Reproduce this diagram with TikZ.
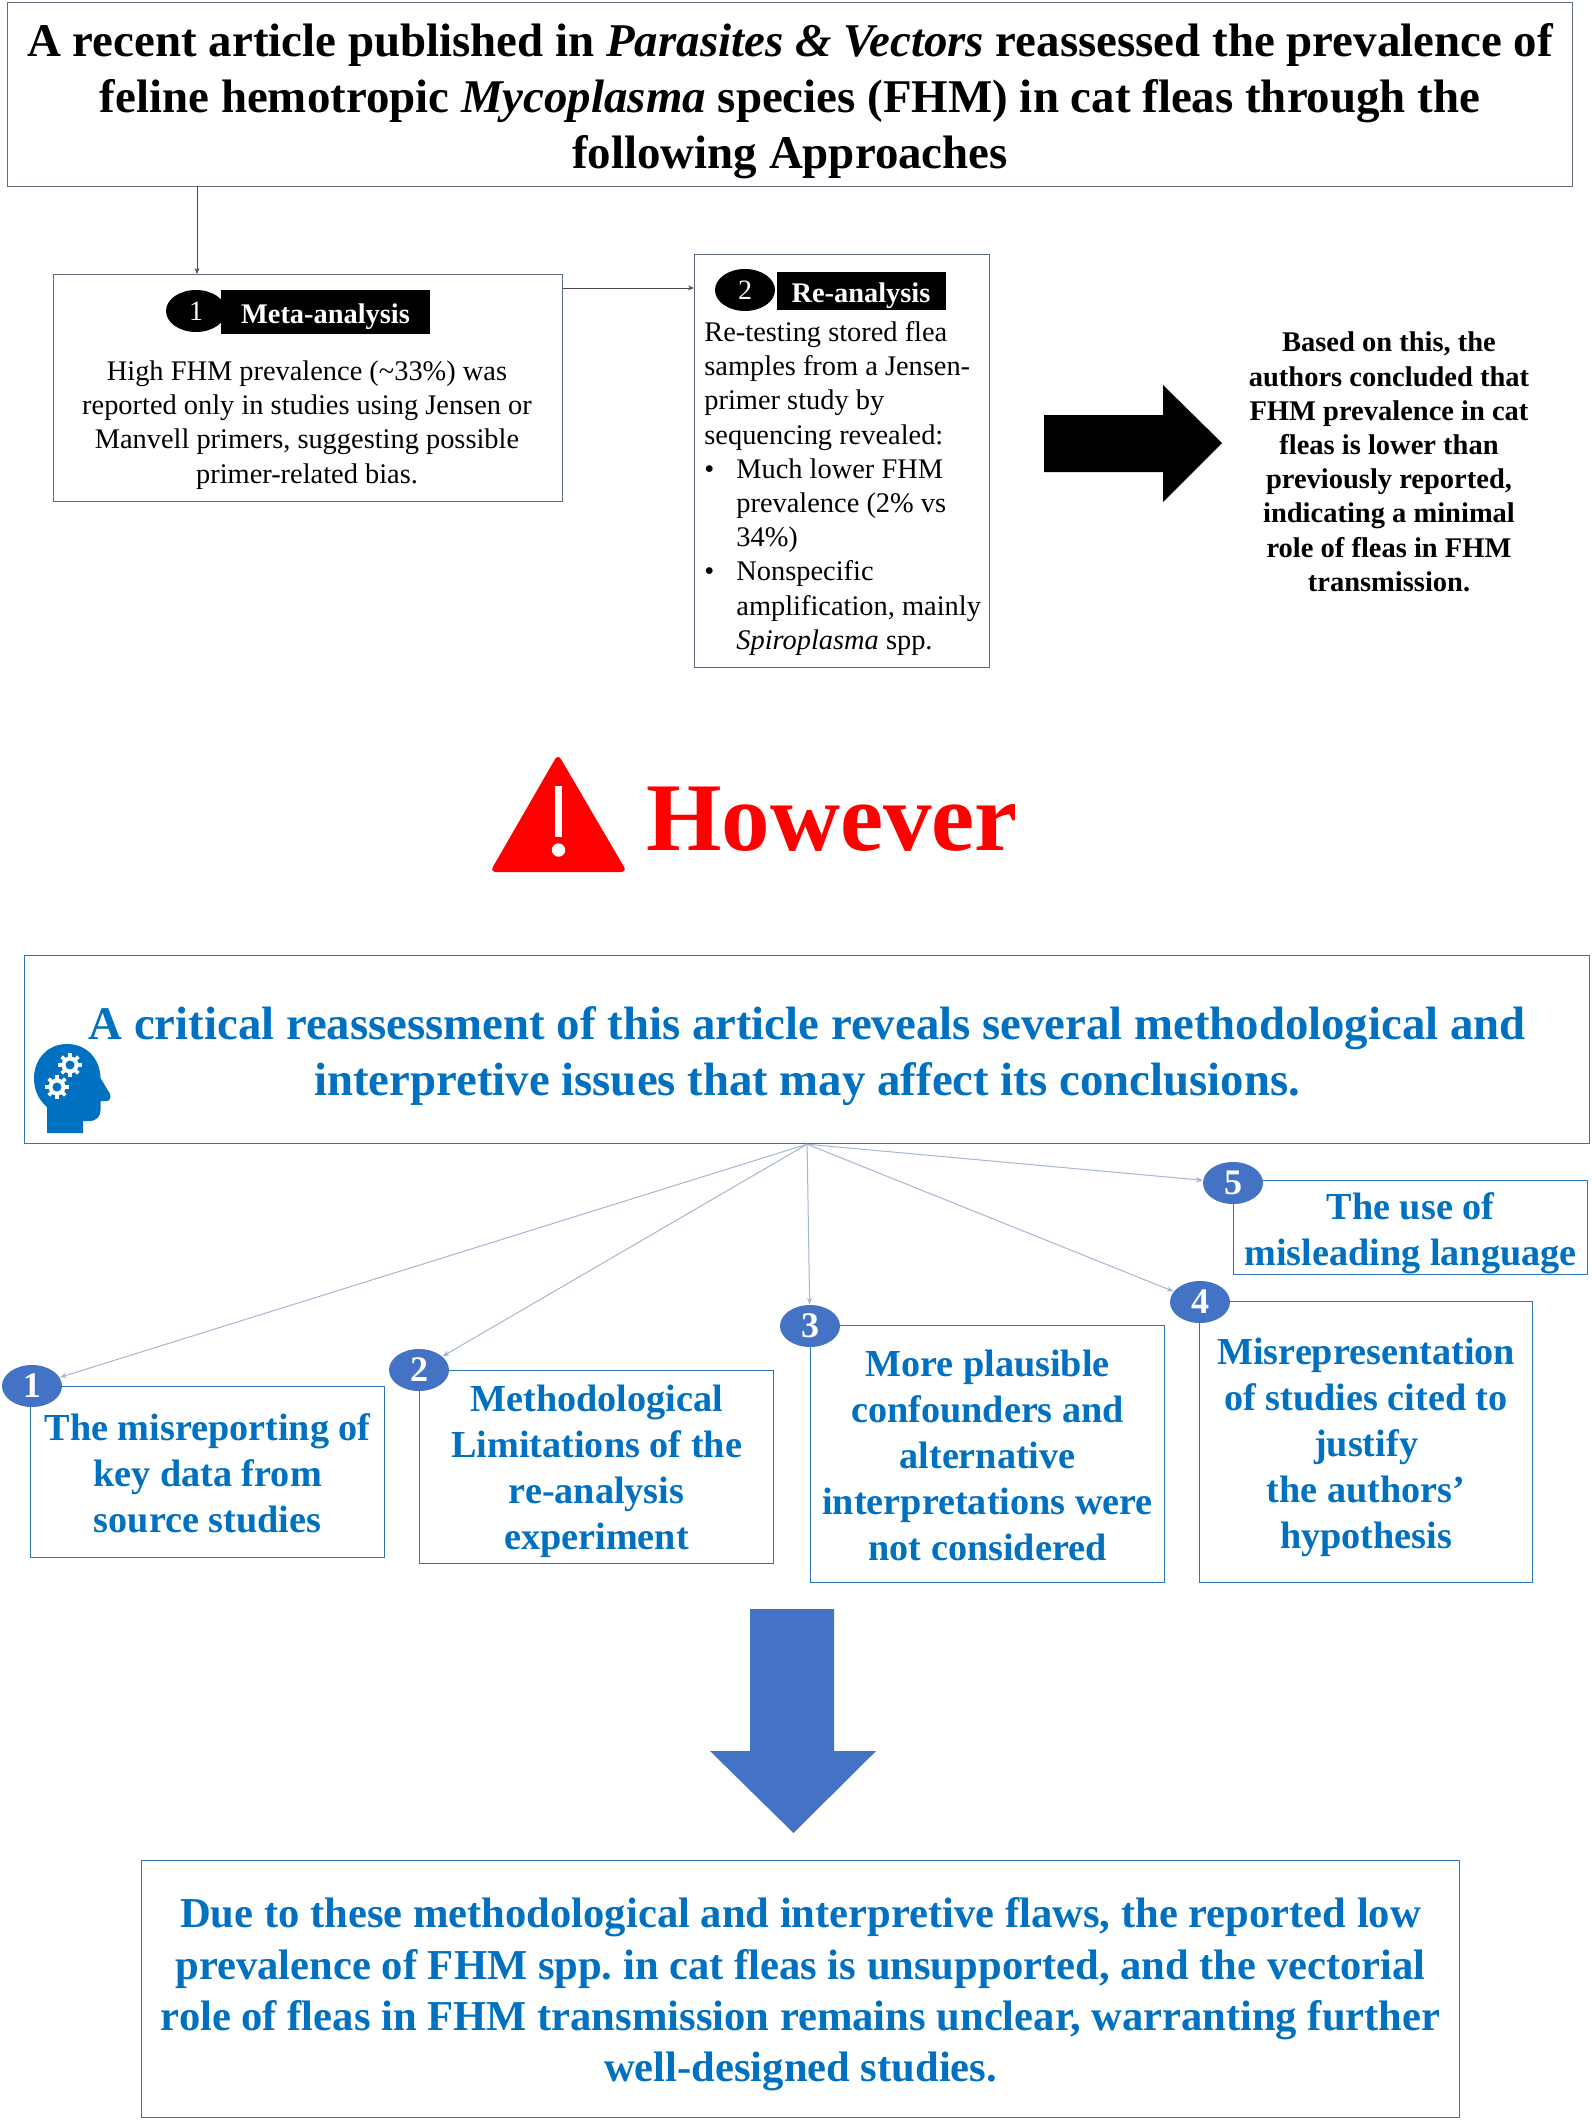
\documentclass[tikz,border=0pt]{standalone}
\usepackage{fontspec}
\setmainfont{Liberation Serif}
\usetikzlibrary{shapes.geometric,arrows.meta}
\definecolor{critblue}{HTML}{0070C0}
\definecolor{edgeblue}{HTML}{2E75B6}
\definecolor{badgeblue}{HTML}{4472C4}
\definecolor{linkblue}{HTML}{A3B6D3}
\definecolor{slategrey}{HTML}{5F6B7F}
\tikzset{
  greybox/.style={draw=slategrey, line width=0.6pt, fill=white, anchor=north west, inner sep=0pt},
  bluebox/.style={draw=edgeblue, line width=0.6pt, fill=white, anchor=north west, inner sep=0pt},
  boxtext/.style={align=center, inner sep=0pt},
  bluetext/.style={boxtext, text=critblue},
  blackbadge/.style={ellipse, fill=black, text=white, inner sep=0pt, minimum width=30pt, minimum height=21pt, font=\fontsize{14}{14}\selectfont},
  bluebadge/.style={ellipse, fill=badgeblue, text=white, inner sep=0pt, minimum width=30pt, minimum height=21pt, font=\fontsize{18}{18}\bfseries\selectfont},
  blacktag/.style={fill=black, text=white, inner sep=0pt, text height=11pt, text depth=0pt, font=\fontsize{14.2}{14.2}\bfseries\selectfont},
  blacklink/.style={draw=black!70, line width=0.35pt, -{Stealth[length=3pt,width=2.4pt]}},
  bluelink/.style={draw=linkblue, line width=0.5pt, -{Stealth[length=3.5pt,width=2.6pt]}},
  subtext/.style={bluetext, font=\fontsize{19.1}{23}\bfseries\selectfont},
}
\begin{document}
\frenchspacing
\begin{tikzpicture}[x=0.5pt, y=-0.5pt]
  \def\u{0.5pt}
  \useasboundingbox (0,0) rectangle (1591,2120);

  % top part
  \node[greybox, minimum width=1565*\u, minimum height=184*\u] (title) at (7,2) {};
  \node[boxtext, font=\fontsize{23.45}{28}\bfseries\selectfont] (titletext) at ([yshift=-3.2pt]title.center)
    {A recent article published in \textit{Parasites \& Vectors} reassessed the prevalence of\\
     feline hemotropic \textit{Mycoplasma} species (FHM) in cat fleas through the\\
     following Approaches};

  \node[greybox, minimum width=509*\u, minimum height=227*\u] (meta) at (53,274) {};
  \node[blackbadge] (metabadge) at (196,311) {1};
  \node[blacktag, minimum width=209*\u, minimum height=44*\u] (metatag) at (325.5,312) {Meta-analysis};
  \node[boxtext, font=\fontsize{14.2}{17.1}\selectfont] (metatext) at (307,425)
    {High FHM prevalence (\textasciitilde33\%) was\\
     reported only in studies using Jensen or\\
     Manvell primers, suggesting possible\\
     primer-related bias.};

  \node[greybox, minimum width=295*\u, minimum height=413*\u] (rean) at (694,254) {};
  \node[blackbadge] (reanbadge) at (745,290) {2};
  \node[blacktag, minimum width=169*\u, minimum height=38*\u] (reantag) at (861,291) {Re-analysis};
  \node[anchor=north west, align=left, inner sep=0pt, font=\fontsize{14.2}{17.1}\selectfont] (reantext) at (704,321)
    {Re-testing stored flea\\
     samples from a Jensen-\\
     primer study by\\
     sequencing revealed:\\
     \makebox[16pt][l]{•}Much lower FHM\\
     \hspace*{16pt}prevalence (2\% vs\\
     \hspace*{16pt}34\%)\\
     \makebox[16pt][l]{•}Nonspecific\\
     \hspace*{16pt}amplification, mainly\\
     \hspace*{16pt}\textit{Spiroplasma} spp.};

  \coordinate (titleout) at (197,186);
  \coordinate (metaout) at (563,288);
  \draw[blacklink] (titleout) -- (titleout |- meta.north);
  \draw[blacklink] (metaout) -- (metaout -| rean.west);

  \fill (1044,415) -- (1163,415) -- (1163,385) -- (1222,443) -- (1163,502) -- (1163,472) -- (1044,472) -- cycle;
  \node[boxtext, font=\fontsize{14.25}{17.1}\bfseries\selectfont] (verdict) at (1389,462)
    {Based on this, the\\
     authors concluded that\\
     FHM prevalence in cat\\
     fleas is lower than\\
     previously reported,\\
     indicating a minimal\\
     role of fleas in FHM\\
     transmission.};

  % warning sign
  \fill[red, rounded corners=3pt] (558,754) -- (627,872) -- (490,872) -- cycle;
  \fill[white] (555,786) rectangle (562,837);
  \fill[white] (558.5,850) circle (6.7);
  \node[red, inner sep=0pt, font=\fontsize{48.5}{48.5}\bfseries\selectfont] (however) at (832,819) {However};

  % lower part
  \node[bluebox, minimum width=1565*\u, minimum height=188*\u] (crit) at (24,955) {};
  \node[bluetext, font=\fontsize{23.4}{28}\bfseries\selectfont] (crittext) at ([yshift=-3.2pt]crit.center)
    {A critical reassessment of this article reveals several methodological and\\
     interpretive issues that may affect its conclusions.};

  % head with gears
  \fill[critblue] (47,1133) -- (83,1133) -- (83,1121) -- (89,1121) .. controls (97,1121) and (100.5,1116) .. (100.5,1110)
    -- (100.5,1101) -- (107,1101) .. controls (110,1101) and (111,1097) .. (110,1094) -- (100.5,1078)
    .. controls (100,1058) and (86,1044) .. (67,1044) .. controls (47,1044) and (34,1060) .. (34,1078)
    .. controls (34,1092) and (40,1101) .. (47,1107) -- cycle;
  \foreach \cx/\cy in {70/1065, 57/1087} {
    \fill[white] (\cx,\cy) circle (8.5);
    \foreach \a in {0,45,...,315}
      \fill[white] (\cx,\cy) ++(\a-14:7.5) -- ++(\a:4.5) -- ++(\a+90:3.6) -- ++(\a:-4.5) -- cycle;
    \fill[critblue] (\cx,\cy) circle (4.5);
  }

  \node[bluebox, minimum width=354*\u, minimum height=171*\u] (flawa) at (30,1386) {};
  \node[bluebox, minimum width=354*\u, minimum height=193*\u] (flawb) at (419,1370) {};
  \node[bluebox, minimum width=354*\u, minimum height=257*\u] (flawc) at (810,1325) {};
  \node[bluebox, minimum width=333*\u, minimum height=281*\u] (flawd) at (1199,1301) {};
  \node[bluebox, minimum width=354*\u, minimum height=94*\u] (flawe) at (1233,1180) {};
  \node[subtext] (flawatext) at ([yshift=-0.7pt]flawa.center) {The misreporting of\\ key data from\\ source studies};
  \node[subtext] (flawbtext) at ([yshift=-2pt]flawb.center) {Methodological\\ Limitations of the\\ re-analysis\\ experiment};
  \node[subtext] (flawctext) at ([yshift=-0.7pt]flawc.center) {More plausible\\ confounders and\\ alternative\\ interpretations were\\ not considered};
  \node[subtext] (flawdtext) at ([yshift=-2.7pt]flawd.center) {Misrepresentation\\ of studies cited to\\ justify\\ the authors’\\ hypothesis};
  \node[subtext] (flawetext) at ([yshift=-2.7pt]flawe.center) {The use of\\ misleading language};

  \node[bluebadge] (badgea) at (32,1386) {1};
  \node[bluebadge] (badgeb) at (419,1370) {2};
  \node[bluebadge] (badgec) at (810,1326) {3};
  \node[bluebadge] (badged) at (1200,1302) {4};
  \node[bluebadge] (badgee) at (1233,1183) {5};

  \foreach \b in {badgea,badgeb,badgec,badged,badgee}
    \draw[bluelink] (crit.south) -- (\b);

  \fill[badgeblue] (750,1609) -- (834,1609) -- (834,1751) -- (876,1751) -- (793.5,1833) -- (710,1751) -- (750,1751) -- cycle;

  \node[bluebox, minimum width=1318*\u, minimum height=257*\u] (result) at (141,1860) {};
  \node[bluetext, font=\fontsize{21.3}{25.7}\bfseries\selectfont] (resulttext) at ([yshift=-2.7pt]result.center)
    {Due to these methodological and interpretive flaws, the reported low\\
     prevalence of FHM spp. in cat fleas is unsupported, and the vectorial\\
     role of fleas in FHM transmission remains unclear, warranting further\\
     well-designed studies.};
\end{tikzpicture}
\end{document}
